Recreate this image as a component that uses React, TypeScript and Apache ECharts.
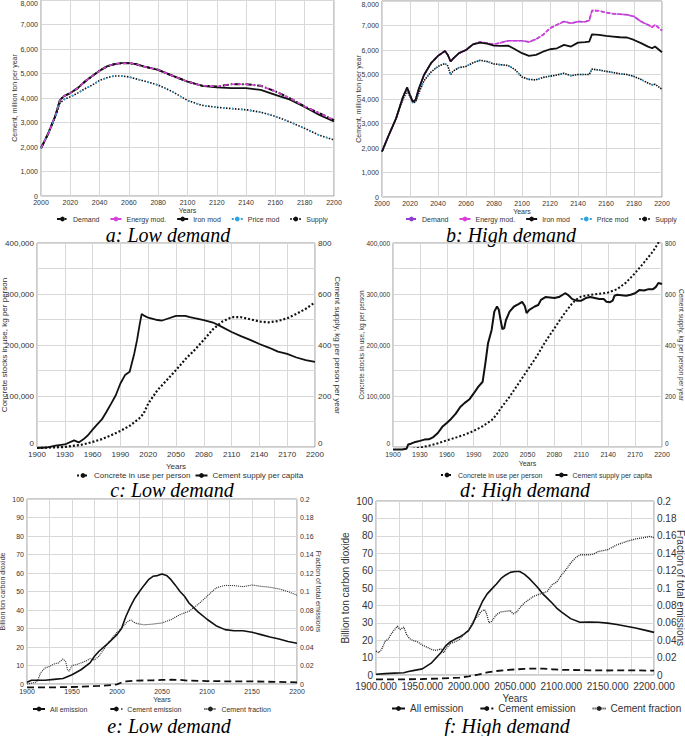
import React, { useEffect, useRef } from 'react';
import * as echarts from 'echarts';

// ---------- Panel a: Low demand (cement, million ton per year) ----------
const aYears = [2000, 2005, 2010, 2013, 2016, 2020, 2025, 2030, 2035, 2040, 2045, 2050, 2055, 2060, 2065, 2070, 2080, 2090, 2100, 2110, 2120, 2130, 2140, 2150, 2160, 2170, 2180, 2190, 2200];
const aDemand = [1950, 2560, 3310, 3925, 4090, 4200, 4400, 4670, 4900, 5110, 5290, 5380, 5420, 5420, 5380, 5290, 5150, 4900, 4670, 4500, 4470, 4560, 4560, 4500, 4270, 3990, 3650, 3380, 3100];
const aEnergy = [1950, 2560, 3310, 3925, 4090, 4200, 4400, 4670, 4900, 5110, 5290, 5380, 5420, 5420, 5380, 5290, 5150, 4900, 4670, 4500, 4470, 4560, 4560, 4500, 4270, 3990, 3650, 3380, 3100];
const aIron = [1950, 2560, 3310, 3925, 4090, 4200, 4400, 4670, 4900, 5110, 5290, 5380, 5420, 5420, 5380, 5290, 5150, 4900, 4670, 4500, 4430, 4400, 4400, 4330, 4130, 3930, 3630, 3310, 3040];
const aPrice = [1950, 2550, 3250, 3800, 3950, 4050, 4200, 4380, 4530, 4720, 4830, 4900, 4900, 4860, 4780, 4700, 4530, 4250, 3900, 3700, 3620, 3570, 3520, 3420, 3250, 3020, 2760, 2480, 2290];
const aSupply = [1950, 2550, 3250, 3800, 3950, 4050, 4200, 4380, 4530, 4720, 4830, 4900, 4900, 4860, 4780, 4700, 4530, 4250, 3900, 3700, 3620, 3570, 3520, 3420, 3250, 3020, 2760, 2480, 2290];

// ---------- Panel b: High demand ----------
const bYears = [2000, 2005, 2010, 2015, 2018, 2020, 2022, 2024, 2026, 2030, 2035, 2040, 2045, 2047, 2049, 2051, 2055, 2060, 2065, 2070, 2075, 2080, 2085, 2090, 2095, 2100, 2105, 2110, 2115, 2120, 2125, 2130, 2135, 2140, 2145, 2148, 2150, 2155, 2160, 2165, 2170, 2175, 2180, 2185, 2190, 2193, 2195, 2200];
const bDemand = [1850, 2550, 3200, 4090, 4470, 4160, 3890, 3960, 4370, 4980, 5460, 5760, 5960, 5800, 5530, 5660, 5870, 6000, 6230, 6330, 6280, 6230, 6300, 6380, 6380, 6380, 6330, 6440, 6620, 6890, 7030, 7160, 7090, 7160, 7150, 7200, 7610, 7600, 7530, 7480, 7460, 7440, 7370, 7160, 7030, 6930, 7030, 6790];
const bEnergy = [1850, 2550, 3200, 4090, 4470, 4160, 3890, 3960, 4370, 4980, 5460, 5760, 5960, 5800, 5530, 5660, 5870, 6000, 6230, 6330, 6280, 6230, 6300, 6380, 6380, 6380, 6330, 6440, 6620, 6890, 7030, 7160, 7090, 7160, 7150, 7200, 7610, 7600, 7530, 7480, 7460, 7440, 7370, 7160, 7030, 6930, 7030, 6790];
const bIron = [1850, 2550, 3200, 4090, 4470, 4160, 3890, 3960, 4370, 4980, 5460, 5760, 5960, 5800, 5530, 5660, 5870, 6000, 6230, 6300, 6260, 6180, 6170, 6180, 6030, 5870, 5760, 5800, 5930, 6030, 6070, 6210, 6140, 6300, 6320, 6340, 6640, 6620, 6580, 6550, 6520, 6510, 6410, 6280, 6140, 6070, 6140, 5910];
const bPrice = [1850, 2550, 3200, 4000, 4330, 4100, 3850, 3880, 4200, 4750, 5100, 5330, 5450, 5350, 5000, 5150, 5280, 5330, 5480, 5580, 5530, 5430, 5400, 5370, 5200, 4900, 4800, 4780, 4880, 4930, 4980, 5050, 4950, 5000, 5000, 5000, 5220, 5180, 5130, 5080, 5030, 5000, 4920, 4800, 4650, 4580, 4600, 4400];
const bSupply = [1850, 2550, 3200, 4000, 4330, 4100, 3850, 3880, 4200, 4750, 5100, 5330, 5450, 5350, 5000, 5150, 5280, 5330, 5480, 5580, 5530, 5430, 5400, 5370, 5200, 4900, 4800, 4780, 4880, 4930, 4980, 5050, 4950, 5000, 5000, 5000, 5220, 5180, 5130, 5080, 5030, 5000, 4920, 4800, 4650, 4580, 4600, 4400];

// ---------- Panel c: Low demand (concrete stocks / cement supply per capita) ----------
const cConcreteYears = [1900, 1930, 1950, 1960, 1970, 1980, 1990, 2000, 2010, 2015, 2020, 2030, 2040, 2050, 2060, 2070, 2080, 2090, 2100, 2110, 2120, 2130, 2140, 2150, 2160, 2170, 2180, 2190, 2200];
const cConcrete = [-2000, 0, 5000, 10000, 15500, 23000, 31500, 41500, 55500, 65500, 85000, 111500, 131000, 151000, 172000, 190000, 210000, 231000, 246000, 254500, 254500, 250500, 246000, 244500, 247000, 252500, 261000, 271000, 283500];
const cSupplyYears = [1900, 1910, 1920, 1930, 1940, 1945, 1950, 1955, 1960, 1965, 1970, 1975, 1980, 1985, 1990, 1995, 2000, 2005, 2008, 2011, 2013, 2016, 2020, 2030, 2035, 2040, 2050, 2060, 2065, 2070, 2080, 2090, 2100, 2110, 2120, 2130, 2140, 2150, 2160, 2170, 2180, 2190, 2200];
const cSupply = [-4, -2, 5, 10, 26, 18, 30, 46, 68, 89, 108, 138, 170, 203, 249, 282, 295, 367, 420, 485, 522, 514, 507, 498, 496, 502, 514, 514, 509, 505, 498, 488, 470, 451, 435, 420, 404, 390, 374, 365, 351, 341, 334];

// ---------- Panel d: High demand ----------
const dConcreteYears = [1900, 1910, 1920, 1930, 1940, 1950, 1960, 1970, 1980, 1990, 2000, 2010, 2015, 2020, 2030, 2040, 2050, 2060, 2070, 2080, 2090, 2100, 2105, 2110, 2120, 2130, 2140, 2150, 2160, 2170, 2180, 2190, 2200];
const dConcrete = [-5000, -5000, -4000, -1300, 2600, 7200, 13000, 18400, 24300, 31500, 40700, 52500, 62300, 75400, 98400, 124600, 150800, 177000, 206600, 232800, 259000, 282000, 289800, 295100, 298400, 300300, 303000, 309500, 322600, 341000, 362000, 383600, 412000];
const dSupplyYears = [1900, 1910, 1915, 1917, 1920, 1925, 1930, 1935, 1940, 1945, 1950, 1955, 1960, 1965, 1970, 1975, 1980, 1985, 1990, 1995, 2000, 2003, 2006, 2010, 2013, 2016, 2018, 2020, 2022, 2024, 2026, 2030, 2035, 2040, 2044, 2047, 2049, 2052, 2058, 2062, 2065, 2070, 2080, 2085, 2092, 2095, 2100, 2105, 2110, 2115, 2120, 2130, 2135, 2138, 2142, 2145, 2147, 2150, 2160, 2165, 2170, 2175, 2180, 2185, 2190, 2193, 2196, 2200];
const dSupply = [-10, -10, -7, 10, 13, 20, 24, 29, 30, 39, 55, 79, 94, 111, 131, 157, 173, 186, 210, 236, 256, 328, 407, 459, 531, 551, 538, 498, 462, 466, 498, 531, 551, 560, 569, 553, 525, 538, 551, 557, 577, 588, 584, 588, 603, 597, 580, 574, 574, 584, 588, 580, 580, 570, 568, 574, 593, 597, 593, 597, 603, 616, 614, 619, 619, 627, 643, 639];

// ---------- Panel e: Low demand emissions ----------
const eAllYears = [1900, 1905, 1910, 1920, 1930, 1940, 1950, 1960, 1970, 1975, 1980, 1990, 2000, 2005, 2010, 2015, 2020, 2025, 2030, 2035, 2040, 2045, 2050, 2055, 2060, 2065, 2070, 2075, 2080, 2090, 2100, 2110, 2120, 2130, 2140, 2150, 2160, 2170, 2180, 2190, 2200];
const eAll = [1, 2, 2, 2, 2.5, 3, 5, 7.7, 11.4, 15, 17.7, 22, 26.7, 30, 36.6, 42, 46.5, 50, 53.3, 56.4, 58.2, 58.6, 59.5, 58.7, 56.4, 53.3, 50, 47.4, 43.8, 39, 35, 31.5, 29.4, 28.8, 28.8, 28, 26.7, 25.4, 24.3, 23, 22];
const eCementYears = [1900, 1930, 1960, 1980, 1995, 2000, 2005, 2010, 2020, 2040, 2050, 2060, 2070, 2080, 2100, 2130, 2150, 2180, 2200];
const eCement = [-1.8, -1.8, -1.5, -1, -0.6, -0.2, 0.8, 1.4, 1.8, 2, 2.2, 2.3, 2.2, 1.8, 1.6, 1.4, 1.4, 1.1, 0.9];
const eFractionYears = [1900, 1910, 1912, 1915, 1920, 1925, 1930, 1935, 1940, 1943, 1945, 1947, 1950, 1955, 1960, 1965, 1970, 1975, 1980, 1985, 1990, 1995, 2000, 2005, 2010, 2015, 2020, 2025, 2030, 2040, 2050, 2060, 2070, 2080, 2090, 2100, 2110, 2120, 2130, 2140, 2150, 2160, 2170, 2180, 2190, 2200];
const eFraction = [0, 0.002, 0.004, 0.012, 0.0172, 0.019, 0.0216, 0.0228, 0.027, 0.024, 0.0154, 0.014, 0.02, 0.021, 0.0228, 0.0246, 0.0274, 0.026, 0.03, 0.0372, 0.044, 0.05, 0.056, 0.06, 0.066, 0.0696, 0.066, 0.0648, 0.064, 0.0648, 0.066, 0.0696, 0.075, 0.0786, 0.086, 0.0948, 0.1038, 0.1066, 0.1064, 0.1052, 0.107, 0.1056, 0.1046, 0.1028, 0.1, 0.096];

// ---------- Panel f: High demand emissions ----------
const fAllYears = [1900, 1910, 1920, 1930, 1935, 1940, 1950, 1960, 1970, 1975, 1980, 1985, 1990, 1995, 2000, 2005, 2010, 2015, 2020, 2025, 2030, 2035, 2040, 2045, 2050, 2055, 2060, 2065, 2070, 2075, 2080, 2085, 2090, 2095, 2100, 2110, 2120, 2130, 2140, 2150, 2160, 2170, 2180, 2190, 2200];
const fAll = [0.4, 0.8, 1.1, 1.3, 2, 2.5, 3.5, 7, 12.8, 16.6, 19, 20.5, 21.8, 23.5, 25.6, 30, 36.6, 42.4, 46.6, 49.5, 52.3, 55.5, 57.5, 59, 59.5, 59.5, 58, 55.7, 52.9, 50, 46.6, 44, 41.4, 38.5, 36.3, 32.4, 30.3, 30.5, 30.3, 29.8, 29, 28, 27, 25.8, 24.5];
const fCementYears = [1900, 1930, 1950, 1970, 1990, 2000, 2005, 2010, 2020, 2030, 2040, 2050, 2060, 2070, 2080, 2090, 2100, 2130, 2150, 2170, 2200];
const fCement = [-2.5, -2.5, -2.3, -2, -1.5, -0.8, -0.3, 0.2, 1.5, 2.3, 2.8, 3.2, 3.5, 3.7, 3.7, 3.3, 3, 2.7, 2.6, 2.7, 2.5];
const fFractionYears = [1900, 1903, 1906, 1910, 1913, 1916, 1920, 1923, 1926, 1930, 1933, 1936, 1940, 1945, 1950, 1955, 1960, 1965, 1970, 1973, 1975, 1978, 1980, 1985, 1990, 1995, 2000, 2005, 2010, 2013, 2017, 2019, 2022, 2025, 2030, 2035, 2040, 2045, 2048, 2052, 2055, 2060, 2070, 2080, 2085, 2090, 2095, 2100, 2105, 2110, 2115, 2120, 2125, 2130, 2135, 2140, 2150, 2160, 2170, 2180, 2190, 2195, 2200];
const fFraction = [0.0274, 0.0256, 0.0294, 0.039, 0.0408, 0.0466, 0.0522, 0.056, 0.0522, 0.055, 0.0466, 0.042, 0.0396, 0.038, 0.0344, 0.032, 0.0294, 0.0282, 0.03, 0.0256, 0.0294, 0.0332, 0.036, 0.038, 0.0408, 0.0466, 0.0512, 0.0618, 0.0676, 0.0726, 0.0752, 0.0714, 0.06, 0.0618, 0.0694, 0.0726, 0.0732, 0.074, 0.0702, 0.0726, 0.077, 0.0828, 0.0904, 0.0942, 0.0962, 0.1038, 0.1068, 0.1146, 0.121, 0.1286, 0.1344, 0.1382, 0.1382, 0.1382, 0.139, 0.142, 0.144, 0.1496, 0.1534, 0.1564, 0.158, 0.1592, 0.158];

const captions = ['a: Low demand', 'b: High demand', 'c: Low demand', 'd: High demand', 'e: Low demand', 'f: High demand'];

const SANS = 'Liberation Sans, Arial, sans-serif';
const SERIF = 'Liberation Serif, Times New Roman, serif';
const TXT = '#333';
const GRIDC = '#d8d8d8';

const pairs = (xs: number[], ys: number[]) => xs.map((x, i) => [x, ys[i]]);
const thousands = (v: number) => Math.round(v).toLocaleString('en-US');

function grid(left: number, top: number, width: number, height: number) {
  return { left, top, width, height, show: true, borderColor: '#999', borderWidth: 1, containLabel: false, outerBoundsMode: 'none' };
}

function xAx(gridIndex: number, min: number, max: number, interval: number, fs: number, gap: number, fmt: (v: number) => string, margin: number) {
  return {
    type: 'value', gridIndex, min, max, interval,
    axisLine: { show: false }, axisTick: { show: false },
    splitLine: { show: true, lineStyle: { color: GRIDC, width: 1 } },
    axisLabel: { fontSize: fs, color: TXT, fontFamily: SANS, margin, formatter: fmt, hideOverlap: false },
    name: 'Years', nameLocation: 'middle', nameGap: gap, nameMoveOverlap: false,
    nameTextStyle: { fontSize: fs, color: TXT, fontFamily: SANS },
  };
}

function yAx(gridIndex: number, min: number, max: number, interval: number, fs: number, name: string, gap: number, fmt: (v: number) => string, right = false, split = true, extra: any = {}, nfs = fs) {
  return {
    type: 'value', gridIndex, min, max, interval, position: right ? 'right' : 'left',
    axisLine: { show: false }, axisTick: { show: false },
    splitLine: { show: split, lineStyle: { color: GRIDC, width: 1 } },
    axisLabel: { fontSize: fs, color: TXT, fontFamily: SANS, margin: 3, formatter: fmt, ...extra },
    name, nameLocation: 'middle', nameGap: gap, nameRotate: right ? -90 : 90, nameMoveOverlap: false,
    nameTextStyle: { fontSize: nfs, color: TXT, fontFamily: SANS },
  };
}

function line(name: string, xi: number, yi: number, data: number[][], color: string, width: number, type: any, clip = true, z = 2) {
  return {
    type: 'line', name, xAxisIndex: xi, yAxisIndex: yi, data, symbol: 'none', showSymbol: false,
    lineStyle: { color, width, type }, itemStyle: { color }, clip, z, silent: true, smooth: false,
  };
}

function legend(left: number, top: number, names: string[], fs: number, gap: number, iw: number) {
  return {
    left, top, data: names, orient: 'horizontal', selectedMode: false,
    itemWidth: iw, itemHeight: 6, itemGap: gap, padding: 0,
    textStyle: { fontSize: fs, color: TXT, fontFamily: SANS, lineHeight: fs + 1 },
    formatter: (n: string) => n.trim(),
  };
}

const MAG = '#d940d9';
const BLUE = '#2ea3df';
const PURPLE = '#8c3fd0';
const DASHDOT = [6, 2, 1.5, 2];

function buildOption() {
  const yFrac = (v: number) => String(Number(v.toFixed(2)));
  const zeroUp = { verticalAlignMinLabel: 'bottom' };
  return {
    animation: false,
    backgroundColor: '#fff',
    grid: [
      grid(41, 0, 293, 196),
      grid(382, 1, 280, 196),
      grid(37, 243, 278, 204),
      grid(393, 243, 269, 204),
      grid(27, 499, 270, 185),
      grid(376, 501, 278, 174),
    ],
    xAxis: [
      xAx(0, 2000, 2200, 20, 7, 11, (v) => String(v), 3),
      xAx(1, 2000, 2200, 20, 7, 11, (v) => String(v), 3),
      xAx(2, 1900, 2200, 30, 8, 15, (v) => String(v), 3),
      xAx(3, 1900, 2200, 30, 7, 13, (v) => String(v), 4),
      xAx(4, 1900, 2200, 25, 7, 12, (v) => (v % 50 === 0 ? String(v) : ''), 4),
      xAx(5, 1900, 2200, 25, 10, 18, (v) => (v % 50 === 0 ? v.toFixed(3) : ''), 6),
    ],
    yAxis: [
      yAx(0, 0, 8000, 1000, 7, 'Cement, million ton per year', 23, thousands, false, true, { verticalAlignMaxLabel: 'top' }),
      yAx(1, 0, 8000, 1000, 7, 'Cement, million ton per year', 20, thousands, false, true, { verticalAlignMaxLabel: 'top' }),
      yAx(2, 0, 400000, 50000, 8, 'Concrete stocks in use, kg per person', 29, (v) => (v % 100000 === 0 ? thousands(v) : ''), false, true, zeroUp),
      yAx(2, 0, 800, 100, 8, 'Cement supply, kg per person per year', 18, (v) => (v % 200 === 0 ? String(v) : ''), true, false, zeroUp),
      yAx(3, 0, 400000, 50000, 6.5, 'Concrete stocks in use, kg per person', 28, (v) => (v % 100000 === 0 ? thousands(v) : ''), false, true, zeroUp),
      yAx(3, 0, 800, 100, 6.5, 'Cement supply, kg per person per year', 16, (v) => (v % 200 === 0 ? String(v) : ''), true, false, zeroUp),
      yAx(4, 0, 100, 10, 7, 'Billion ton carbon dioxide', 21, (v) => String(v)),
      yAx(4, 0, 0.2, 0.02, 7, 'Fraction of total emissions', 18, yFrac, true, false),
      yAx(5, 0, 100, 10, 10, 'Billion ton carbon dioxide', 26, (v) => String(v), false, true, {}, 10),
      yAx(5, 0, 0.2, 0.02, 10, 'Fraction of total emissions', 21, yFrac, true, false, {}, 10),
    ],
    legend: [
      legend(56, 215, ['Demand', 'Energy mod.', 'Iron mod', 'Price mod', 'Supply'], 7, 10, 11),
      legend(405, 215, ['Demand ', 'Energy mod.', 'Iron mod', 'Price mod', 'Supply'], 7, 10, 11),
      legend(76, 471, ['Concrete in use per person', 'Cement supply per capita'], 8, 4, 12),
      legend(440, 471, ['Concrete in use per person', 'Cement supply per capita'], 7, 12, 12),
      legend(32, 705, ['All emission', 'Cement emission', 'Cement fraction'], 7, 22, 12),
      legend(391, 703, ['All emission', 'Cement emission', 'Cement fraction'], 10, 16, 13),
    ],
    series: [
      // a
      line('Demand', 0, 0, pairs(aYears, aDemand), '#111', 2, DASHDOT),
      line('Iron mod', 0, 0, pairs(aYears, aIron), '#111', 1.8, 'solid'),
      line('Energy mod.', 0, 0, pairs(aYears, aEnergy), MAG, 1.5, [4, 3], true, 3),
      line('Supply', 0, 0, pairs(aYears, aSupply), '#111', 1.6, [1.5, 1.5]),
      line('Price mod', 0, 0, pairs(aYears, aPrice), BLUE, 1.5, [2, 7], true, 3),
      // b
      line('Demand ', 1, 1, pairs(bYears, bDemand), PURPLE, 1.6, [4, 2]),
      line('Energy mod.', 1, 1, pairs(bYears, bEnergy), MAG, 1.6, [4, 1.5], true, 3),
      line('Iron mod', 1, 1, pairs(bYears, bIron), '#111', 1.8, 'solid', true, 4),
      line('Supply', 1, 1, pairs(bYears, bSupply), '#111', 1.6, [1.5, 1]),
      line('Price mod', 1, 1, pairs(bYears, bPrice), BLUE, 1.4, [2, 9], true, 3),
      // c
      line('Concrete in use per person', 2, 2, pairs(cConcreteYears, cConcrete), '#111', 2.2, [2, 2], false),
      line('Cement supply per capita', 2, 3, pairs(cSupplyYears, cSupply), '#111', 1.8, 'solid', false),
      // d
      line('Concrete in use per person', 3, 4, pairs(dConcreteYears, dConcrete), '#111', 2, [2, 2], true),
      line('Cement supply per capita', 3, 5, pairs(dSupplyYears, dSupply), '#111', 2, 'solid', false),
      // e
      line('All emission', 4, 6, pairs(eAllYears, eAll), '#111', 1.6, 'solid', false),
      line('Cement emission', 4, 6, pairs(eCementYears, eCement), '#111', 1.8, [7, 4], false),
      line('Cement fraction', 4, 7, pairs(eFractionYears, eFraction), '#222', 1.1, [1, 1], false),
      // f
      line('All emission', 5, 8, pairs(fAllYears, fAll), '#111', 1.6, 'solid', false),
      line('Cement emission', 5, 8, pairs(fCementYears, fCement), '#111', 1.8, [7, 4], false),
      line('Cement fraction', 5, 9, pairs(fFractionYears, fFraction), '#222', 1.3, [1, 1], false),
    ],
    graphic: [
      [168, 235], [511, 235], [172, 490], [525, 490], [169, 726], [507, 726],
    ].map(([x, y], i) => ({
      type: 'text', x, y, silent: true,
      style: { text: captions[i], fontFamily: SERIF, fontStyle: 'italic', fontSize: 20, lineHeight: 18, fill: '#000', align: 'center', verticalAlign: 'middle' },
    })),
  };
}

export default function App() {
  const ref = useRef<HTMLDivElement>(null);
  useEffect(() => {
    document.body.style.margin = '0';
    const chart = echarts.init(ref.current as HTMLDivElement, null, { renderer: 'svg' });
    chart.setOption(buildOption() as any);
    return () => chart.dispose();
  }, []);
  return <div ref={ref} style={{ width: 685, height: 736 }} />;
}
